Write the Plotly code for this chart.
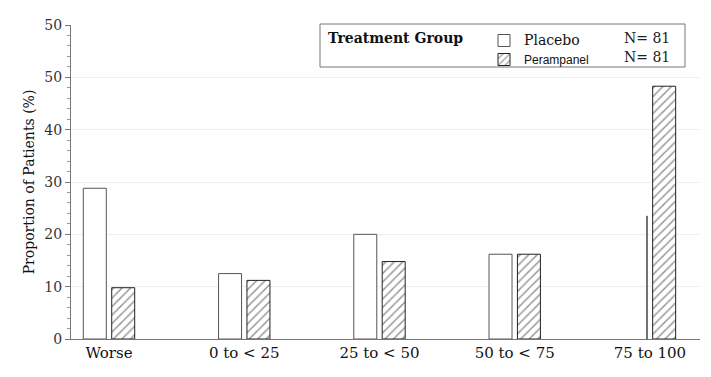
import plotly.graph_objects as go

categories = ["Worse", "0 to < 25", "25 to < 50", "50 to < 75", "75 to 100"]
placebo = [28.8, 12.5, 20.0, 16.2, 23.5]
perampanel = [9.8, 11.2, 14.8, 16.2, 48.3]
y_tick_values = [0, 10, 20, 30, 40, 50, 60]
y_tick_labels = ["0", "10", "20", "30", "40", "50", "50"]
group_names = ["Placebo", "Perampanel"]
group_n = ["N= 81", "N= 81"]

xpos = list(range(len(categories)))
SERIF = "DejaVu Serif"

fig = go.Figure()
fig.add_trace(go.Bar(
    x=xpos, y=placebo,
    name="<span style='font-size:14px'>" + group_names[0] + "</span>",
    width=[0.17, 0.17, 0.17, 0.17, 0.004],
    offset=[-0.19, -0.19, -0.19, -0.19, -0.024],
    marker=dict(color="white", line=dict(color="#555555", width=1)),
))
fig.add_trace(go.Bar(
    x=xpos, y=perampanel,
    name="<span style='font-family:Liberation Sans;font-size:12px'>" + group_names[1] + "</span>",
    width=0.17, offset=0.02,
    marker=dict(color="white", line=dict(color="#222222", width=1),
                pattern=dict(shape="/", fgcolor="#333333", bgcolor="white", size=6, solidity=0.25)),
))

# page body has an 8px margin; layout numbers below are page pixels
OFF = 8
W, H = 711 - OFF, 377 - OFF
PL, PR, PT, PB = 71, 700, 25, 339  # plot area in page pixels
L, R, T, B = PL - OFF, (711 - PR), PT - OFF, (377 - PB)
pw, ph = W - L - R, H - T - B
def px(xp):
    return (xp - PL) / pw
def py(yp):
    return (PB - yp) / ph

fig.add_shape(type="rect", xref="paper", yref="paper",
              x0=px(320), x1=px(685), y0=py(67), y1=py(24),
              line=dict(color="#777777", width=1), fillcolor="rgba(0,0,0,0)")
fig.add_annotation(xref="paper", yref="paper", x=px(326), y=py(38),
                   text="<b>Treatment Group</b>", showarrow=False,
                   xanchor="left", yanchor="middle",
                   font=dict(family=SERIF, size=14, color="#111111"))
for i, n in enumerate(group_n):
    fig.add_annotation(xref="paper", yref="paper", x=px(622), y=py(38 + 19 * i),
                       text=n, showarrow=False, xanchor="left", yanchor="middle",
                       font=dict(family=SERIF, size=14, color="#222222"))

fig.update_layout(
    width=W, height=H,
    margin=dict(l=L, r=R, t=T, b=B, autoexpand=False),
    paper_bgcolor="white", plot_bgcolor="white",
    barmode="overlay",
    showlegend=True,
    legend=dict(x=px(484), y=py(26), xanchor="left", yanchor="top",
                bgcolor="rgba(0,0,0,0)", borderwidth=0,
                font=dict(family=SERIF, size=11, color="#111111"),
                tracegroupgap=0, itemwidth=30),
    font=dict(family=SERIF, color="#222222"),
)
fig.update_xaxes(
    range=[-0.281, 4.37], tickmode="array", tickvals=xpos, ticktext=categories,
    showline=True, linecolor="#777777", linewidth=1, ticks="", showgrid=False,
    zeroline=False, automargin=False,
    tickfont=dict(family=SERIF, size=15, color="#111111"),
)
fig.update_yaxes(
    range=[0, 60], tickmode="array", tickvals=y_tick_values, ticktext=y_tick_labels,
    showline=True, linecolor="#777777", linewidth=1,
    ticks="outside", ticklen=5, tickcolor="#777777",
    minor=dict(dtick=2, ticks="outside", ticklen=3, tickcolor="#999999", showgrid=False),
    showgrid=True, gridcolor="#eeeeee", zeroline=False, automargin=False,
    tickfont=dict(family=SERIF, size=14, color="#333333"),
    title=dict(text="Proportion of Patients (%)", font=dict(family=SERIF, size=14, color="#111111"), standoff=6),
)

fig.write_html("out.html")
